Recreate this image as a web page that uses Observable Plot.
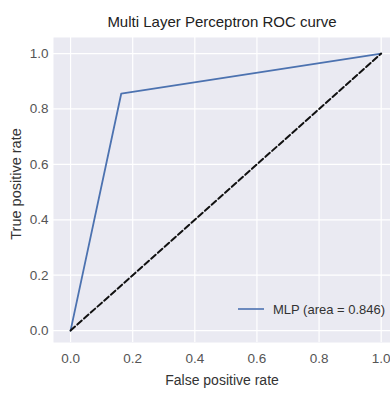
<!DOCTYPE html>
<html>
<head>
<meta charset="utf-8">
<script src="https://cdn.jsdelivr.net/npm/d3@7"></script>
<script src="https://cdn.jsdelivr.net/npm/@observablehq/plot@0.6"></script>
<style>
  html, body { margin: 0; padding: 0; background: #fff; }
</style>
</head>
<body>
<div id="chart"></div>
<script>
const fpr = [0, 0.163, 1];
const tpr = [0, 0.855, 1];
const chanceX = [0, 1];
const chanceY = [0, 1];
const xTicks = [0, 0.2, 0.4, 0.6, 0.8, 1.0];
const yTicks = [0, 0.2, 0.4, 0.6, 0.8, 1.0];
const titleText = "Multi Layer Perceptron ROC curve";
const xLabel = "False positive rate";
const yLabel = "True positive rate";
const legendLabel = "MLP (area = 0.846)";

const roc = fpr.map((x, i) => ({x, y: tpr[i]}));
const chance = chanceX.map((x, i) => ({x, y: chanceY[i]}));

const lineColor = "#4C72B0";
const font = "Liberation Sans, Arial, sans-serif";

function legendMark(index, scales, values, dims) {
  const ns = "http://www.w3.org/2000/svg";
  const g = document.createElementNS(ns, "g");
  const right = dims.width - dims.marginRight;
  const bottom = dims.height - dims.marginBottom;
  const ly = bottom - 33;
  const line = document.createElementNS(ns, "line");
  line.setAttribute("x1", right - 152);
  line.setAttribute("x2", right - 126);
  line.setAttribute("y1", ly);
  line.setAttribute("y2", ly);
  line.setAttribute("stroke", lineColor);
  line.setAttribute("stroke-width", 1.6);
  g.appendChild(line);
  const t = document.createElementNS(ns, "text");
  t.setAttribute("x", right - 117);
  t.setAttribute("y", ly);
  t.setAttribute("dy", "0.35em");
  t.setAttribute("text-anchor", "start");
  t.setAttribute("font-size", "13px");
  t.setAttribute("font-family", font);
  t.setAttribute("fill", "#333");
  t.textContent = legendLabel;
  g.appendChild(t);
  return g;
}

const chart = Plot.plot({
  width: 390,
  height: 394,
  marginLeft: 53,
  marginRight: 0,
  marginTop: 37,
  marginBottom: 52,
  style: {background: "#fff", fontFamily: font, fontSize: "13px", color: "#444"},
  x: {domain: [-0.055, 1.03]},
  y: {domain: [-0.043, 1.058]},
  marks: [
    Plot.frame({fill: "#EAEAF2", stroke: null}),
    Plot.gridX(xTicks, {stroke: "#fff", strokeOpacity: 1, strokeWidth: 1.2}),
    Plot.gridY(yTicks, {stroke: "#fff", strokeOpacity: 1, strokeWidth: 1.2}),
    Plot.axisX(xTicks, {tickSize: 0, tickPadding: 11, tickFormat: d3.format(".1f"), label: null, fill: "#555", fontSize: 13.5}),
    Plot.axisY(yTicks, {tickSize: 0, tickPadding: 5, tickFormat: d3.format(".1f"), label: null, fill: "#555", fontSize: 13.5}),
    Plot.line(roc, {x: "x", y: "y", stroke: lineColor, strokeWidth: 1.8}),
    Plot.line(chance, {x: "x", y: "y", stroke: "#111", strokeWidth: 2, strokeDasharray: "6,3"}),
    Plot.text([titleText], {frameAnchor: "top", lineAnchor: "middle", dy: -15, text: d => d, fontSize: 15, fill: "#222"}),
    Plot.text([xLabel], {frameAnchor: "bottom", lineAnchor: "middle", dy: 38, text: d => d, fontSize: 14, fill: "#333"}),
    Plot.text([yLabel], {frameAnchor: "left", dx: -37, dy: -6, text: d => d, fontSize: 14.5, fill: "#333", rotate: -90, textAnchor: "middle"}),
    legendMark
  ]
});
document.getElementById("chart").appendChild(chart);
</script>
</body>
</html>
